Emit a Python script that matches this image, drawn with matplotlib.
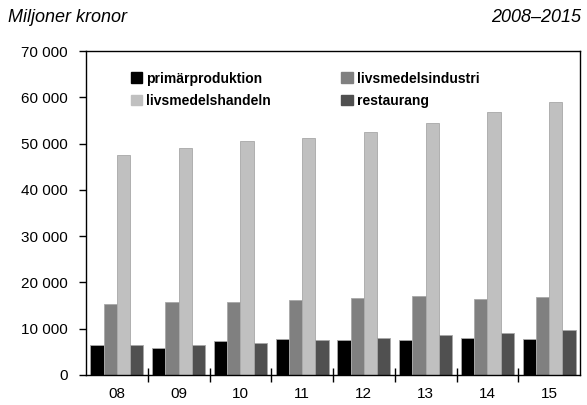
import matplotlib
matplotlib.use("Agg")
import matplotlib.pyplot as plt
import numpy as np
from matplotlib.patches import Patch

plt.rcParams['font.family'] = ['Liberation Sans', 'DejaVu Sans']

years = ['08', '09', '10', '11', '12', '13', '14', '15']
primar = [6400, 5900, 7300, 7700, 7600, 7600, 7900, 7700]
industri = [15400, 15700, 15800, 16200, 16600, 17100, 16500, 16800]
handel = [47500, 49100, 50600, 51100, 52500, 54400, 56900, 58900]
restaurang = [6400, 6500, 7000, 7600, 8000, 8600, 9000, 9800]

series = [
    ('primärproduktion', primar, '#000000'),
    ('livsmedelsindustri', industri, '#808080'),
    ('livsmedelshandeln', handel, '#c0c0c0'),
    ('restaurang', restaurang, '#505050'),
]

fig = plt.figure(figsize=(5.87, 4.05), dpi=100)
ax = fig.add_axes([86 / 587, 30 / 405, 494 / 587, 324 / 405])

x = np.arange(len(years))
w = 0.215
for i, (name, vals, col) in enumerate(series):
    ax.bar(x + (i - 1.5) * w, vals, w, color=col, edgecolor='#a8a8a8', linewidth=0.6)

ax.set_xlim(-0.5, len(years) - 0.5)
ax.set_ylim(0, 70000)
ax.set_yticks(range(0, 70001, 10000))
ax.set_yticklabels(['0' if v == 0 else f'{v // 1000} 000' for v in range(0, 70001, 10000)], fontsize=11)
ax.set_xticks(x)
ax.set_xticklabels(years, fontsize=11)
ax.tick_params(axis='x', length=0, pad=9)
ax.set_xticks(np.arange(0.5, len(years) - 0.5, 1), minor=True)
ax.tick_params(axis='x', which='minor', direction='inout', length=10, width=1)
ax.tick_params(axis='y', direction='out', length=5, width=1, pad=8)
for s in ax.spines.values():
    s.set_linewidth(1)

handles = [Patch(color=c) for _, _, c in series]
names = [n for n, _, _ in series]
order = [0, 2, 1, 3]
ax.legend([handles[k] for k in order], [names[k] for k in order], ncol=2,
          loc='upper left', bbox_to_anchor=(0.065, 0.975), frameon=False,
          prop={'weight': 'bold', 'size': 10}, handlelength=0.8, handleheight=0.8,
          handletextpad=0.3, columnspacing=5.1, labelspacing=0.6)

fig.text(8 / 587, 1 - 18 / 405, 'Miljoner kronor', fontsize=13, style='italic', va='center')
fig.text(1 - 6 / 587, 1 - 18 / 405, '2008–2015', fontsize=13, style='italic',
         va='center', ha='right')

fig.savefig('out.png', dpi=100)
